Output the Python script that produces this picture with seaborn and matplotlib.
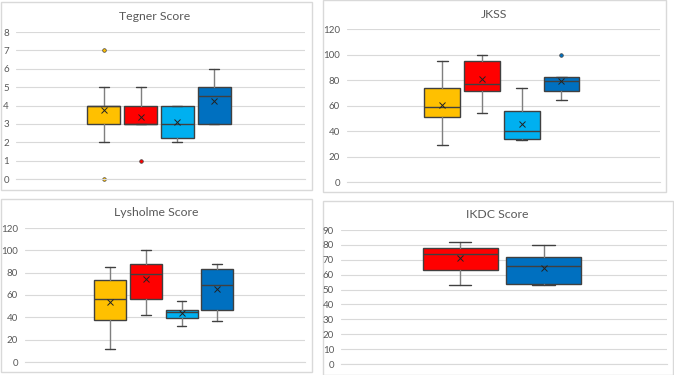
import numpy as np
import matplotlib.pyplot as plt
from matplotlib.patches import Rectangle
import seaborn as sns

# series colours (Excel palette)
colors4 = ['#FFC000', '#FF0000', '#00B0F0', '#0070C0']
colors2 = ['#FF0000', '#0070C0']

# Tegner Score
tegner_q1 = [3, 3, 2.25, 3]
tegner_med = [4, 3, 3, 4.5]
tegner_q3 = [4, 4, 4, 5]
tegner_lo = [2, 3, 2, 3]
tegner_hi = [5, 5, 4, 6]
tegner_mean = [3.74, 3.36, 3.12, 4.26]
tegner_out = [[0, 7], [1], [], []]

# JKSS
jkss_q1 = [51, 71, 34, 71]
jkss_med = [59, 77, 40, 79]
jkss_q3 = [74, 95, 56, 82]
jkss_lo = [29, 54, 33, 64]
jkss_hi = [95, 100, 74, 82]
jkss_mean = [60.1, 80.9, 45.4, 79.6]
jkss_out = [[], [], [], [100]]

# Lysholme Score
lys_q1 = [38, 56.4, 39.3, 47]
lys_med = [56.4, 79, 44.4, 69.3]
lys_q3 = [73, 88, 47, 83.4]
lys_lo = [12, 42, 32, 37]
lys_hi = [85, 100, 55, 88]
lys_mean = [53.7, 74.1, 44.1, 65.7]
lys_out = [[], [], [], []]

# IKDC Score (two groups only)
ikdc_q1 = [63, 54]
ikdc_med = [74, 66]
ikdc_q3 = [78, 72]
ikdc_lo = [53, 53]
ikdc_hi = [82, 80]
ikdc_mean = [71.4, 64.3]
ikdc_out = [[], []]


def make_stats(q1, med, q3, lo, hi, mean, out):
    stats = []
    for i in range(len(q1)):
        stats.append(dict(q1=q1[i], med=med[i], q3=q3[i], whislo=lo[i],
                          whishi=hi[i], mean=mean[i], fliers=out[i]))
    return stats


sns.set_theme(style="whitegrid")
plt.rcParams['font.family'] = ['Lato', 'DejaVu Sans']

W, H = 674, 375
fig = plt.figure(figsize=(W / 100, H / 100), dpi=100)
fig.patch.set_facecolor('white')

grey_txt = '#595959'
grid_col = '#D9D9D9'


def px_axes(x0, y0, x1, y1):
    return fig.add_axes([x0 / W, 1 - y1 / H, (x1 - x0) / W, (y1 - y0) / H])


def chart_border(x0, y0, x1, y1):
    fig.patches.append(Rectangle((x0 / W, 1 - y1 / H), (x1 - x0) / W, (y1 - y0) / H,
                                 transform=fig.transFigure, facecolor='none',
                                 edgecolor=grid_col, linewidth=1, zorder=-1))


def draw_panel(rect, stats, colors, title, ymax, step, xlim, title_pos):
    ax = px_axes(*rect)
    ax.set_facecolor('none')
    pos = np.arange(1, len(stats) + 1)
    bp = ax.bxp(stats, positions=pos, widths=0.9, patch_artist=True,
                showmeans=True, capwidths=0.27,
                boxprops=dict(edgecolor='#404040', linewidth=1),
                medianprops=dict(color='#404040', linewidth=1),
                whiskerprops=dict(color='#7F7F7F', linewidth=1),
                capprops=dict(color='#404040', linewidth=1),
                meanprops=dict(marker='x', markeredgecolor='#222222',
                               markersize=5, markeredgewidth=0.7),
                flierprops=dict(marker='o', markersize=2.6,
                                markeredgecolor='#404040', markeredgewidth=0.5))
    for box, c in zip(bp['boxes'], colors):
        box.set_facecolor(c)
    for fl, c in zip(bp['fliers'], colors):
        fl.set_markerfacecolor(c)
        fl.set_clip_on(False)
    ax.set_xlim(*xlim)
    ax.set_ylim(0, ymax)
    ax.set_yticks(np.arange(0, ymax + step / 2, step))
    ax.set_xticks([])
    ax.grid(axis='y', color=grid_col, linewidth=0.8)
    ax.grid(axis='x', visible=False)
    for s in ['left', 'right', 'top']:
        ax.spines[s].set_visible(False)
    ax.spines['bottom'].set_color(grid_col)
    ax.spines['bottom'].set_linewidth(0.8)
    ax.tick_params(axis='y', length=0, pad=5, labelsize=7, labelcolor=grey_txt)
    fig.text(title_pos[0] / W, 1 - title_pos[1] / H, title, ha='center', va='center',
             fontsize=8.8, color=grey_txt)
    return ax


chart_border(1, 2, 312, 190)
chart_border(323, 0, 666, 192)
chart_border(1, 199, 312, 372)
chart_border(323, 201, 673, 374.5)

draw_panel((16, 32, 305, 179),
           make_stats(tegner_q1, tegner_med, tegner_q3, tegner_lo, tegner_hi, tegner_mean, tegner_out),
           colors4, 'Tegner Score', 8, 1, (-1.39, 6.47), (155, 16))
draw_panel((347, 29, 660, 182),
           make_stats(jkss_q1, jkss_med, jkss_q3, jkss_lo, jkss_hi, jkss_mean, jkss_out),
           colors4, 'JKSS', 120, 20, (-1.40, 6.48), (494, 14))
draw_panel((25, 228, 305, 362),
           make_stats(lys_q1, lys_med, lys_q3, lys_lo, lys_hi, lys_mean, lys_out),
           colors4, 'Lysholme Score', 120, 20, (-1.39, 6.46), (156, 213))
draw_panel((341, 230, 667, 364),
           make_stats(ikdc_q1, ikdc_med, ikdc_q3, ikdc_lo, ikdc_hi, ikdc_mean, ikdc_out),
           colors2, 'IKDC Score', 90, 10, (-0.43, 3.48), (497, 214))

plt.savefig('out.png', dpi=100)
